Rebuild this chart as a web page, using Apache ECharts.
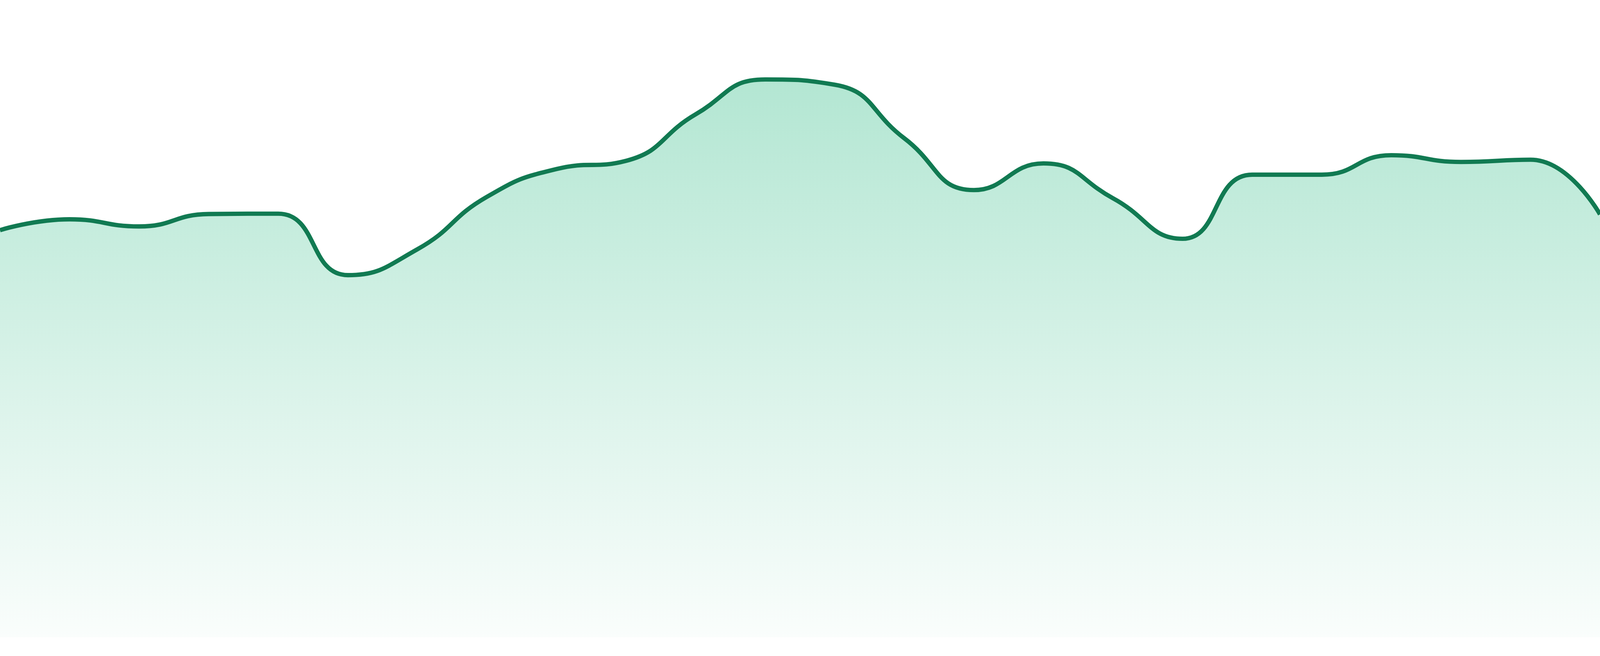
<!DOCTYPE html>
<html>
<head>
<meta charset="utf-8">
<script src="https://cdn.jsdelivr.net/npm/echarts@6/dist/echarts.min.js"></script>
<style>
  html, body { margin: 0; padding: 0; width: 100%; height: 100%; overflow: hidden; background: #ffffff; }
  #chart { width: 100vw; height: 100vh; }
</style>
</head>
<body>
<div id="chart"></div>
<script>
const categories = ['00:00','01:00','02:00','03:00','04:00','05:00','06:00','07:00','08:00','09:00','10:00','11:00',
                    '12:00','13:00','14:00','15:00','16:00','17:00','18:00','19:00','20:00','21:00','22:00','23:00'];
const values = [108.6, 111.5, 109.6, 112.9, 113.0, 96.6, 103.5, 117.5, 124.9, 127.1, 139.5, 148.8,
                147.4, 133.1, 119.3, 126.4, 117.1, 106.3, 123.4, 123.4, 128.6, 126.8, 127.4, 112.8];
const yMin = 0;
const yMax = 170;

const el = document.getElementById('chart');
const chart = echarts.init(el, null, { renderer: 'canvas' });
// stroke width expressed relative to a 4800px-wide picture
const lw = Math.max(2, el.clientWidth / 4800 * 13);
chart.setOption({
  animation: false,
  backgroundColor: '#ffffff',
  grid: { left: 0, right: 0, top: 0, bottom: '2.857%', containLabel: false },
  xAxis: {
    type: 'category',
    data: categories,
    boundaryGap: false,
    show: false
  },
  yAxis: {
    type: 'value',
    min: yMin,
    max: yMax,
    show: false,
    splitLine: { show: false }
  },
  series: [{
    type: 'line',
    data: values,
    smooth: true,
    symbol: 'none',
    lineStyle: { color: '#117a52', width: lw },
    itemStyle: { color: '#117a52' },
    areaStyle: {
      color: new echarts.graphic.LinearGradient(0, 0, 0, 1, [
        { offset: 0, color: 'rgba(24,180,120,0.47)' },
        { offset: 1, color: 'rgba(24,180,120,0.03)' }
      ])
    }
  }]
});
window.addEventListener('resize', () => chart.resize());
</script>
</body>
</html>
